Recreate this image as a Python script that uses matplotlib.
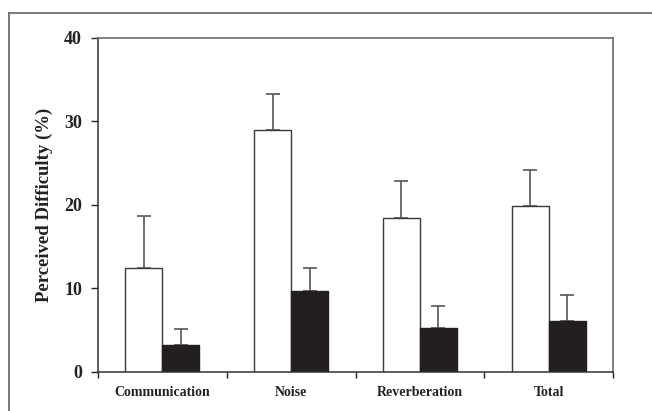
import matplotlib.pyplot as plt
from matplotlib.lines import Line2D
import numpy as np

plt.rcParams['font.family'] = 'Liberation Serif'
plt.rcParams['font.weight'] = 'bold'
plt.rcParams['axes.labelweight'] = 'bold'

categories = ['Communication', 'Noise', 'Reverberation', 'Total']
group_a = [12.4, 29.0, 18.4, 19.9]
group_a_err = [6.3, 4.3, 4.5, 4.3]
group_b = [3.2, 9.7, 5.3, 6.1]
group_b_err = [1.9, 2.7, 2.6, 3.1]

fig = plt.figure(figsize=(6.52, 4.11), dpi=100)
ax = fig.add_axes([98/652, 1 - 371.8/411, (613-98)/652, (371.8-37.8)/411])

# outer frame (left and top only visible)
fig.add_artist(Line2D([9/652, 9/652], [0, 1 - 13/411], transform=fig.transFigure, color='#6e6e6e', lw=1.3))
fig.add_artist(Line2D([9/652, 1], [1 - 13/411, 1 - 13/411], transform=fig.transFigure, color='#6e6e6e', lw=1.3))

x = np.arange(len(categories))
w = 0.287
edge = '#3a3a3a'
ax.bar(x - w/2, group_a, w, color='white', edgecolor=edge, linewidth=1.0, zorder=2)
ax.bar(x + w/2, group_b, w, color='#231f20', edgecolor='#231f20', linewidth=1.0, zorder=2)
lo = np.zeros(len(categories))
ax.errorbar(x - w/2, group_a, yerr=[lo, group_a_err], fmt='none', ecolor='#555555',
            elinewidth=1.2, capsize=5, capthick=1.2, zorder=1)
ax.errorbar(x + w/2, group_b, yerr=[lo, group_b_err], fmt='none', ecolor='#555555',
            elinewidth=1.2, capsize=5, capthick=1.2, zorder=1)

ax.set_xlim(-0.5, len(categories) - 0.5)
ax.set_ylim(0, 40)
ax.set_yticks([0, 10, 20, 30, 40])
ax.tick_params(axis='y', direction='out', length=5, width=1, pad=6.5, labelsize=13, colors='#222222')
ax.set_xticks(np.arange(len(categories) + 1) - 0.5)
ax.set_xticklabels([])
ax.set_xticks(x, minor=True)
ax.set_xticklabels(categories, minor=True, fontsize=10, fontweight='bold')
ax.tick_params(axis='x', which='major', direction='out', length=4, width=1, colors='#222222')
ax.tick_params(axis='x', which='minor', length=0, pad=10, colors='#222222')

for s in ['left', 'bottom']:
    ax.spines[s].set_color('#333333')
    ax.spines[s].set_linewidth(1.1)
for s in ['top', 'right']:
    ax.spines[s].set_color('#777777')
    ax.spines[s].set_linewidth(1.3)

ax.set_ylabel('Perceived Difficulty (%)', fontsize=13.5, color='#222222', labelpad=8)

fig.savefig('out.png', dpi=100)
